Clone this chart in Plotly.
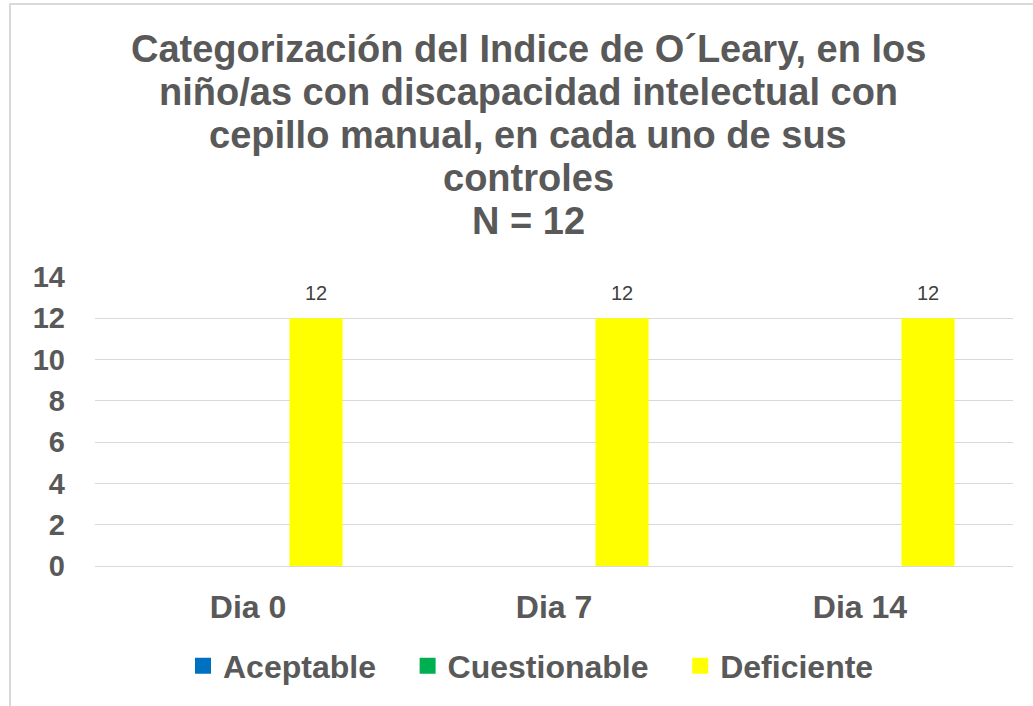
import plotly.graph_objects as go

categories = ["Dia 0", "Dia 7", "Dia 14"]
aceptable = [0, 0, 0]
cuestionable = [0, 0, 0]
deficiente = [12, 12, 12]
series_names = ["Aceptable", "Cuestionable", "Deficiente"]
colors = ["#0070C0", "#00B050", "#FFFF00"]
y_ticks = [0, 2, 4, 6, 8, 10, 12, 14]

title_lines = [
    "Categorización del Indice de O´Leary, en los",
    "niño/as con discapacidad intelectual con",
    "cepillo manual, en cada uno de sus",
    "controles",
    "N = 12",
]

FONT = "Liberation Sans, Arial, sans-serif"
GRAY = "#595959"

W, H = 1033, 706
PL, PR, PT, PB = 95, 1013, 277, 566  # plot area in page pixels
L, R, T, B = PL, W - PR, PT, H - PB
pw = PR - PL
ph = PB - PT

def px_x(x):
    return (x - PL) / pw

def px_y(y):
    return (PB - y) / ph

fig = go.Figure()
for name, vals, col in zip(series_names, [aceptable, cuestionable, deficiente], colors):
    fig.add_trace(go.Bar(
        x=categories, y=vals, name=name, showlegend=False,
        marker=dict(color=col, line=dict(width=0)),
    ))
# legend entries (square keys)
pad = "&nbsp;" * 3
for i, (name, col) in enumerate(zip(series_names, colors)):
    label = name + (pad if i < len(series_names) - 1 else "")
    fig.add_trace(go.Scatter(
        x=[None], y=[None], mode="markers", name=label,
        marker=dict(symbol="square", size=17, color=col),
        showlegend=True,
    ))

annotations = []
# data labels for the Deficiente series (third bar in each group)
for cat, v in zip(categories, deficiente):
    annotations.append(dict(
        x=cat, y=v, xref="x", yref="y", text=str(v), showarrow=False,
        xanchor="center", yanchor="bottom", xshift=68, yshift=12,
        font=dict(family=FONT, size=20, color="#404040"),
    ))

title_centers = [48, 91, 134, 177, 220]
for line, yc in zip(title_lines, title_centers):
    annotations.append(dict(
        text=f"<b>{line}</b>", xref="paper", yref="paper",
        x=px_x(528), y=px_y(yc + 1), xanchor="center", yanchor="middle",
        showarrow=False, font=dict(family=FONT, size=38, color=GRAY),
    ))

fig.update_layout(
    width=W, height=H,
    margin=dict(l=L, r=R, t=T, b=B, pad=0),
    paper_bgcolor="white", plot_bgcolor="white",
    barmode="group", bargap=0.333, bargroupgap=0.22,
    xaxis=dict(showgrid=False, showline=False, ticks="",
               tickfont=dict(family=FONT, size=32, color=GRAY, weight="bold"),
               ticklabelstandoff=19),
    yaxis=dict(range=[0, 14], tickvals=y_ticks, showgrid=True,
               gridcolor="#d9d9d9", gridwidth=1, zeroline=True,
               zerolinecolor="#d9d9d9", zerolinewidth=1, showline=False,
               tickfont=dict(family=FONT, size=29, color=GRAY, weight="bold"),
               ticklabelstandoff=29),
    legend=dict(orientation="h", x=px_x(531), xanchor="center",
                y=px_y(666), yanchor="middle",
                font=dict(family=FONT, size=32, color=GRAY, weight="bold"),
                itemsizing="trace", traceorder="normal"),
    showlegend=True,
    annotations=annotations,
    shapes=[dict(type="rect", xref="paper", yref="paper",
                 x0=px_x(10), x1=px_x(1045), y0=px_y(720), y1=px_y(4),
                 line=dict(color="#d9d9d9", width=2), fillcolor="rgba(0,0,0,0)",
                 layer="below")],
)

fig.write_html(
    "out.html",
    config={"displayModeBar": False},
    post_script="document.body.style.margin='0';document.body.style.overflow='hidden';",
)
